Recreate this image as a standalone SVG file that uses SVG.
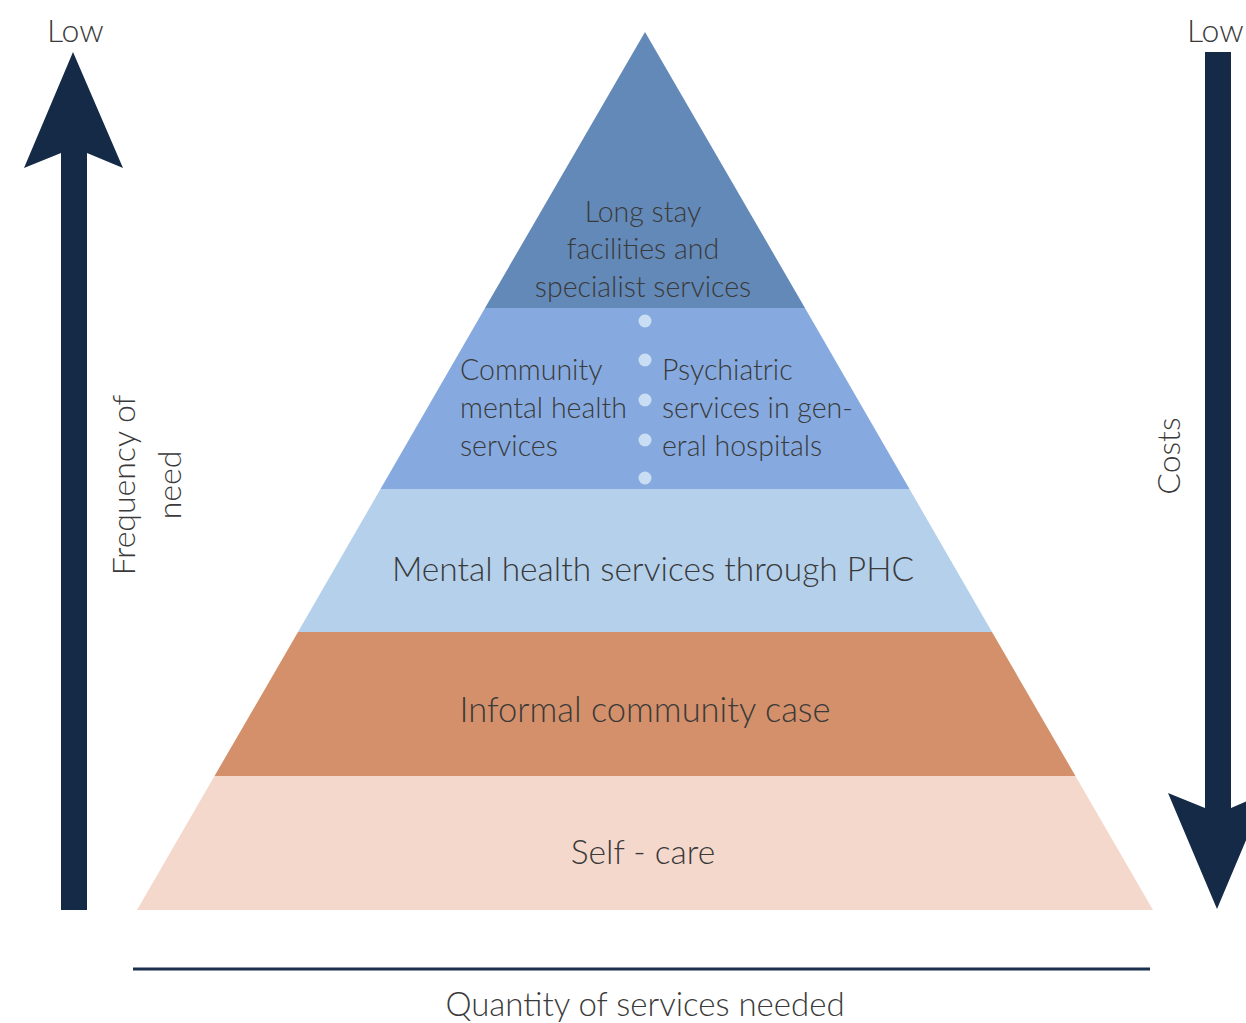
<svg xmlns="http://www.w3.org/2000/svg" width="1246" height="1023" viewBox="0 0 1246 1023">
<style>
.t{font-family:Lato,"Open Sans","Liberation Sans",sans-serif;font-weight:300;fill:#3a3a3a}
.c{text-anchor:middle}
.dot{fill:#C9DEF2}
.arr{fill:#152A47}
</style>
<rect width="1246" height="1023" fill="#fff"/>
<g id="pyramid">
<g id="level-top"><polygon points="645,32 805,308 485,308" fill="#6389B8"/>
<text class="t c" x="643" y="222" font-size="28.5">Long stay</text>
<text class="t c" x="643" y="259" font-size="28.5">facilities and</text>
<text class="t c" x="643" y="297" font-size="28.5">specialist services</text></g>
<g id="level-specialist"><polygon points="485,308 805,308 909.5,489 380.5,489" fill="#86AADF"/>
<text class="t" x="460" y="380" font-size="28.5">Community</text>
<text class="t" x="460" y="418" font-size="28.5">mental health</text>
<text class="t" x="460" y="456" font-size="28.5">services</text>
<text class="t" x="662" y="380" font-size="28.5">Psychiatric</text>
<text class="t" x="662" y="418" font-size="28.5">services in gen-</text>
<text class="t" x="662" y="456" font-size="28.5">eral hospitals</text>
<circle class="dot" cx="645" cy="321" r="6.5"/>
<circle class="dot" cx="645" cy="360" r="6.5"/>
<circle class="dot" cx="645" cy="400" r="6.5"/>
<circle class="dot" cx="645" cy="440" r="6.5"/>
<circle class="dot" cx="645" cy="478" r="6.5"/></g>
<g id="level-phc"><polygon points="380.5,489 909.5,489 992,632 298,632" fill="#B4D0EB"/>
<text class="t c" x="653" y="581" font-size="33.5">Mental health services through PHC</text></g>
<g id="level-informal"><polygon points="298,632 992,632 1075.5,776 214.5,776" fill="#D4906A"/>
<text class="t c" x="645" y="722" font-size="34.5">Informal community case</text></g>
<g id="level-self"><polygon points="214.5,776 1075.5,776 1153,910 137,910" fill="#F5D8CC"/>
<text class="t c" x="643" y="864" font-size="33.5">Self - care</text></g>
</g>
<g id="connectors">
<polygon class="arr" points="73,52 123,168 87,153 87,910 61,910 61,153 24,168"/>
<polygon class="arr" points="1205,52 1231,52 1231,808 1266,793 1217,909 1168,793 1205,808"/>
<line x1="133" y1="969" x2="1150" y2="969" stroke="#1B2F4F" stroke-width="3"/>
</g>
<g id="labels">
<text class="t" x="47" y="42" font-size="32">Low</text>
<text class="t" x="1187" y="42" font-size="32">Low</text>
<text class="t c" transform="translate(135,485) rotate(-90)" font-size="32">Frequency of</text>
<text class="t c" transform="translate(181,485) rotate(-90)" font-size="32">need</text>
<text class="t c" transform="translate(1180,456) rotate(-90)" font-size="32">Costs</text>
<text class="t c" x="645" y="1016" font-size="33">Quantity of services needed</text>
</g>
</svg>
